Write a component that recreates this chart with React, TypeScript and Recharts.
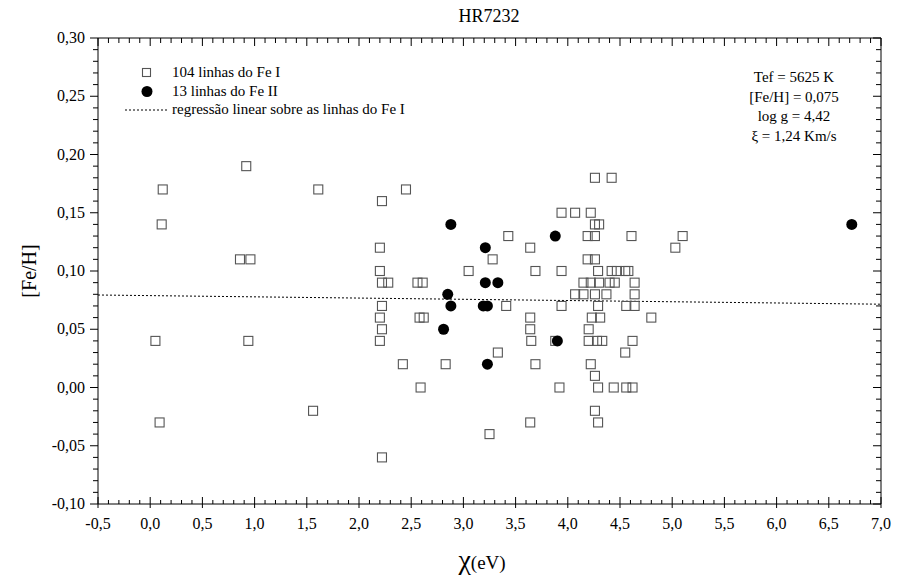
import React from "react";
import {
  ScatterChart,
  Scatter,
  XAxis,
  YAxis,
  ReferenceArea,
} from "recharts";

// Fe I lines (open squares)
const feIChi = [
  0.05, 0.09, 0.12, 0.11, 0.86, 0.96, 0.92, 0.94, 1.61, 1.56,
  2.45, 2.22, 3.43, 2.2, 3.28, 2.2, 3.05, 2.22, 2.28, 2.56,
  2.61, 2.22, 3.41, 2.2, 2.58, 2.62, 2.22, 2.2, 3.33, 2.42,
  2.83, 2.59, 3.25, 2.22,
  4.26, 4.42, 3.94, 4.07, 4.22, 4.26, 4.3, 4.19, 4.26, 4.61,
  3.64, 4.19, 4.26, 3.69, 3.94, 4.29, 4.42, 4.47, 4.55, 4.58,
  4.15, 4.22, 4.3, 4.4, 4.45, 4.64, 4.07, 4.15, 4.26, 4.37,
  4.64, 3.94, 4.29, 4.56, 4.64, 3.64, 4.23, 4.31, 4.8, 3.64,
  4.2, 3.65, 3.88, 4.2, 4.28, 4.33, 4.62, 4.55, 3.69, 4.22,
  4.26, 3.92, 4.29, 4.44, 4.56, 4.62, 4.26, 3.64, 4.29, 5.03,
  5.1,
];
const feIFeH = [
  0.04, -0.03, 0.17, 0.14, 0.11, 0.11, 0.19, 0.04, 0.17, -0.02,
  0.17, 0.16, 0.13, 0.12, 0.11, 0.1, 0.1, 0.09, 0.09, 0.09,
  0.09, 0.07, 0.07, 0.06, 0.06, 0.06, 0.05, 0.04, 0.03, 0.02,
  0.02, 0.0, -0.04, -0.06,
  0.18, 0.18, 0.15, 0.15, 0.15, 0.14, 0.14, 0.13, 0.13, 0.13,
  0.12, 0.11, 0.11, 0.1, 0.1, 0.1, 0.1, 0.1, 0.1, 0.1,
  0.09, 0.09, 0.09, 0.09, 0.09, 0.09, 0.08, 0.08, 0.08, 0.08,
  0.08, 0.07, 0.07, 0.07, 0.07, 0.06, 0.06, 0.06, 0.06, 0.05,
  0.05, 0.04, 0.04, 0.04, 0.04, 0.04, 0.04, 0.03, 0.02, 0.02,
  0.01, 0.0, 0.0, 0.0, 0.0, 0.0, -0.02, -0.03, -0.03, 0.12,
  0.13,
];

// Fe II lines (filled circles)
const feIIChi = [2.88, 3.21, 3.21, 3.33, 2.85, 2.88, 3.19, 3.23, 2.81, 3.23, 3.88, 3.9, 6.72];
const feIIFeH = [0.14, 0.12, 0.09, 0.09, 0.08, 0.07, 0.07, 0.07, 0.05, 0.02, 0.13, 0.04, 0.14];

// regression over Fe I lines (end points)
const regChi = [-0.5, 7.0];
const regFeH = [0.0794, 0.0715];

const annotation = ["Tef = 5625 K", "[Fe/H] = 0,075", "log g = 4,42", "\u03be = 1,24 Km/s"];

const feI = feIChi.map((x, i) => ({ x, y: feIFeH[i] }));
const feII = feIIChi.map((x, i) => ({ x, y: feIIFeH[i] }));
const reg = regChi.map((x, i) => ({ x, y: regFeH[i] }));

// minor ticks every 0.1 on x and 0.01 on y
const xTicks: number[] = [];
for (let i = -5; i <= 70; i++) xTicks.push(i / 10);
const yTicks: number[] = [];
for (let i = -10; i <= 30; i++) yTicks.push(i / 100);

const W = 898;
const H = 578;
const TOP = 38;
const RIGHT = 881;
const FONT = '"Liberation Serif", "Times New Roman", Times, "DejaVu Serif", serif';
const serif = { fontFamily: FONT };

const comma = (v: number, d: number) => v.toFixed(d).replace(".", ",").replace(/^-0,0+$/, "0,00");

const isMajor = (v: number, step: number) => Math.abs(v / step - Math.round(v / step)) < 1e-6;

const XTick = (props: any) => {
  const { x, y, payload } = props;
  const v = payload.value;
  const major = isMajor(v, 0.5);
  return (
    <g>
      <line x1={x} x2={x} y1={y - (major ? 7 : 4)} y2={y + (major ? 4 : 0)} stroke="#000" />
      <line x1={x} x2={x} y1={TOP} y2={TOP + (major ? 8 : 5)} stroke="#000" />
      {major && (
        <text x={x} y={y + 25} textAnchor="middle" fontSize={16} style={serif} fill="#000">
          {comma(v, 1)}
        </text>
      )}
    </g>
  );
};

const YTick = (props: any) => {
  const { x, y, payload } = props;
  const v = payload.value;
  const major = isMajor(v, 0.05);
  return (
    <g>
      <line x1={x - (major ? 8 : 5)} x2={x} y1={y} y2={y} stroke="#000" />
      <line x1={RIGHT - (major ? 8 : 5)} x2={RIGHT} y1={y} y2={y} stroke="#000" />
      {major && (
        <text x={x - 13} y={y + 5} textAnchor="end" fontSize={16} style={serif} fill="#000">
          {comma(v, 2)}
        </text>
      )}
    </g>
  );
};

const Square = (props: any) => {
  const { cx, cy } = props;
  return <rect x={cx - 4.5} y={cy - 4.5} width={9} height={9} fill="none" stroke="#555" strokeWidth={1.1} />;
};

const Dot = (props: any) => {
  const { cx, cy } = props;
  return <circle cx={cx} cy={cy} r={5.5} fill="#000" />;
};

const NoShape = () => <g />;

export default function App() {
  return (
    <div style={{ position: "absolute", left: 0, top: 0, width: W, height: H, background: "#fff", fontFamily: FONT }}>
      <ScatterChart width={W} height={H} margin={{ top: TOP, right: W - RIGHT, bottom: 44, left: 38 }}>
        <XAxis
          type="number"
          dataKey="x"
          domain={[-0.5, 7]}
          ticks={xTicks}
          interval={0}
          height={30}
          tickSize={0}
          tickMargin={0}
          tickLine={false}
          axisLine={false}
          tick={<XTick />}
          allowDataOverflow
        />
        <YAxis
          type="number"
          dataKey="y"
          domain={[-0.1, 0.3]}
          ticks={yTicks}
          interval={0}
          width={60}
          tickSize={0}
          tickMargin={0}
          tickLine={false}
          axisLine={false}
          tick={<YTick />}
          allowDataOverflow
        />
        <ReferenceArea x1={-0.5} x2={7} y1={-0.1} y2={0.3} fill="none" fillOpacity={0} stroke="#000" strokeWidth={1} ifOverflow="visible" />
        <Scatter
          data={reg}
          line={{ stroke: "#000", strokeWidth: 1, strokeDasharray: "2 2" }}
          shape={<NoShape />}
          isAnimationActive={false}
        />
        <Scatter data={feI} shape={<Square />} isAnimationActive={false} />
        <Scatter data={feII} shape={<Dot />} isAnimationActive={false} />
      </ScatterChart>
      <svg width={W} height={H} style={{ position: "absolute", left: 0, top: 0, pointerEvents: "none", fontFamily: FONT }}>
        <text x={489} y={22} textAnchor="middle" fontSize={18} style={serif} fill="#000">
          HR7232
        </text>
        <text
          x={0}
          y={0}
          transform="translate(36,271) rotate(-90)"
          textAnchor="middle"
          fontSize={20}
          style={serif}
          fill="#000"
        >
          [Fe/H]
        </text>
        <text x={482} y={569} textAnchor="middle" style={serif} fill="#000">
          <tspan fontSize={28}>{"\u03c7"}</tspan>
          <tspan fontSize={19}>(eV)</tspan>
        </text>
        {/* legend */}
        <rect x={142.5} y={68.5} width={8} height={8} fill="none" stroke="#555" strokeWidth={1.1} />
        <text x={172} y={77} fontSize={15} style={serif} fill="#000">104 linhas do Fe I</text>
        <circle cx={147} cy={91.5} r={5.5} fill="#000" />
        <text x={172} y={96} fontSize={15} style={serif} fill="#000">13 linhas do Fe II</text>
        <line x1={125} x2={167} y1={110} y2={110} stroke="#000" strokeWidth={1} strokeDasharray="2 2" />
        <text x={172} y={114} fontSize={15} style={serif} fill="#000">
          regressão linear sobre as linhas do Fe I
        </text>
        {annotation.map((t, i) => (
          <text key={i} x={794} y={82 + i * 19.5} textAnchor="middle" fontSize={15} style={serif} fill="#000">
            {t}
          </text>
        ))}
      </svg>
    </div>
  );
}
